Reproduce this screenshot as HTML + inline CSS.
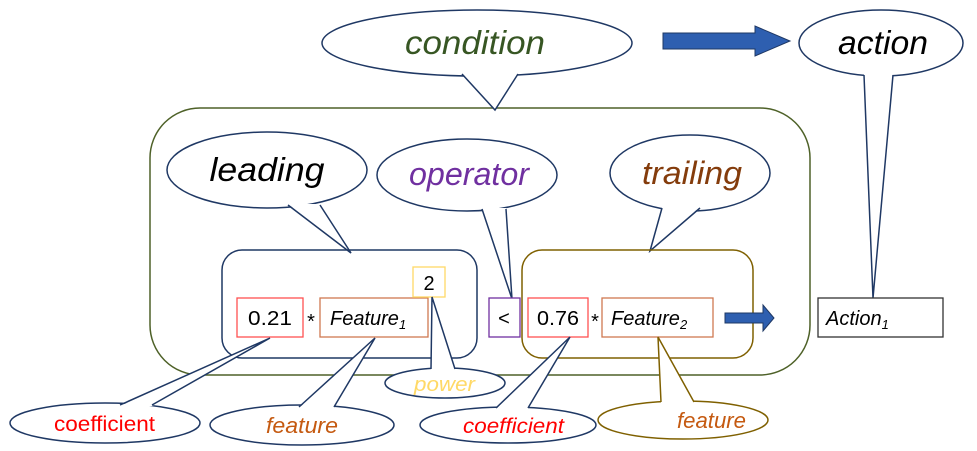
<!DOCTYPE html>
<html><head><meta charset="utf-8"><style>
html,body{margin:0;padding:0;background:#fff;}
svg{display:block;}
text{font-family:"Liberation Sans",sans-serif;}
</style></head><body>
<svg width="977" height="451" viewBox="0 0 977 451" xmlns="http://www.w3.org/2000/svg">
<rect x="150" y="108" width="660" height="267" rx="50" fill="none" stroke="#4e6128" stroke-width="1.5"/>
<ellipse cx="477" cy="43" rx="155" ry="33" fill="#fff" stroke="#1f3864" stroke-width="1.5"/>
<polygon points="462,73 495,110 518,73" fill="#fff"/>
<polyline points="462,74 495,110 518,74" fill="none" stroke="#1f3864" stroke-width="1.5"/>
<text x="475" y="54" font-size="33" font-style="italic" fill="#375623" text-anchor="middle" textLength="140" lengthAdjust="spacingAndGlyphs">condition</text>
<polygon points="663,33 755,33 755,26 790,41 755,56 755,49 663,49" fill="#2e5fb0" stroke="#1f3864" stroke-width="1"/>
<ellipse cx="881" cy="43" rx="82" ry="33" fill="#fff" stroke="#1f3864" stroke-width="1.5"/>
<polygon points="864,74 873,298 893,74" fill="#fff"/>
<polyline points="864,75 873,298 893,75" fill="none" stroke="#1f3864" stroke-width="1.5"/>
<text x="883" y="54" font-size="33" font-style="italic" fill="#000" text-anchor="middle" textLength="90" lengthAdjust="spacingAndGlyphs">action</text>
<ellipse cx="267" cy="170" rx="100" ry="38" fill="#fff" stroke="#1f3864" stroke-width="1.5"/>
<polygon points="288,204 351,253 320,204" fill="#fff"/>
<polyline points="288,205 351,253 320,205" fill="none" stroke="#1f3864" stroke-width="1.5"/>
<text x="267" y="181" font-size="33" font-style="italic" fill="#000" text-anchor="middle" textLength="115" lengthAdjust="spacingAndGlyphs">leading</text>
<ellipse cx="467" cy="175" rx="90" ry="36" fill="#fff" stroke="#1f3864" stroke-width="1.5"/>
<polygon points="482,208 512,299 506,208" fill="#fff"/>
<polyline points="482,209 512,299 506,209" fill="none" stroke="#1f3864" stroke-width="1.5"/>
<text x="469" y="185" font-size="32" font-style="italic" fill="#7030a0" text-anchor="middle" textLength="120" lengthAdjust="spacingAndGlyphs">operator</text>
<ellipse cx="690" cy="173" rx="80" ry="38" fill="#fff" stroke="#1f3864" stroke-width="1.5"/>
<polygon points="662,207 650,251 700,207" fill="#fff"/>
<polyline points="662,208 650,251 700,208" fill="none" stroke="#1f3864" stroke-width="1.5"/>
<text x="692" y="184" font-size="32" font-style="italic" fill="#843c0c" text-anchor="middle" textLength="100" lengthAdjust="spacingAndGlyphs">trailing</text>
<rect x="222" y="250" width="255" height="108" rx="20" fill="none" stroke="#1f3864" stroke-width="1.5"/>
<rect x="237" y="298" width="66" height="39" fill="#fff" stroke="#ff5050" stroke-width="1.3"/>
<text x="248" y="325" font-size="20" textLength="44" lengthAdjust="spacingAndGlyphs">0.21</text>
<text x="311" y="328" font-size="20" text-anchor="middle">*</text>
<rect x="320" y="298" width="108" height="39" fill="#fff" stroke="#d07850" stroke-width="1.3"/>
<text x="330" y="325" font-size="20" font-style="italic">Feature<tspan font-size="13" dy="4">1</tspan></text>
<rect x="413" y="267" width="32" height="30" fill="#fff" stroke="#ffd966" stroke-width="1.3"/>
<text x="429" y="290" font-size="20" text-anchor="middle">2</text>
<rect x="489" y="298" width="31" height="39" fill="#fff" stroke="#7030a0" stroke-width="1.3"/>
<text x="504" y="325" font-size="20" text-anchor="middle">&lt;</text>
<rect x="522" y="250" width="231" height="108" rx="20" fill="none" stroke="#7f6000" stroke-width="1.5"/>
<rect x="528" y="298" width="60" height="39" fill="#fff" stroke="#ff5050" stroke-width="1.3"/>
<text x="537" y="325" font-size="20" textLength="42" lengthAdjust="spacingAndGlyphs">0.76</text>
<text x="595" y="328" font-size="20" text-anchor="middle">*</text>
<rect x="602" y="298" width="111" height="39" fill="#fff" stroke="#d07850" stroke-width="1.3"/>
<text x="611" y="325" font-size="20" font-style="italic">Feature<tspan font-size="13" dy="4">2</tspan></text>
<polygon points="725,313 763,313 763,305 774,318 763,331 763,323 725,323" fill="#2e5fb0" stroke="#1f3864" stroke-width="1"/>
<rect x="818" y="298" width="125" height="39" fill="#fff" stroke="#333" stroke-width="1.3"/>
<text x="826" y="325" font-size="20" font-style="italic">Action<tspan font-size="13" dy="4">1</tspan></text>
<ellipse cx="445" cy="383" rx="60" ry="15" fill="#fff" stroke="#1f3864" stroke-width="1.5"/>
<polygon points="431,370 432,297 455,370" fill="#fff"/>
<polyline points="431,369 432,297 455,369" fill="none" stroke="#1f3864" stroke-width="1.5"/>
<text x="414" y="391" font-size="20" font-style="italic" fill="#ffd966" textLength="61" lengthAdjust="spacingAndGlyphs">power</text>
<ellipse cx="105" cy="423" rx="95" ry="20" fill="#fff" stroke="#1f3864" stroke-width="1.5"/>
<polygon points="120,406 270,338 152,406" fill="#fff"/>
<polyline points="120,405 270,338 152,405" fill="none" stroke="#1f3864" stroke-width="1.5"/>
<text x="54" y="431" font-size="21" fill="#ff0000" textLength="101" lengthAdjust="spacingAndGlyphs">coefficient</text>
<ellipse cx="302" cy="425" rx="92" ry="20" fill="#fff" stroke="#1f3864" stroke-width="1.5"/>
<polygon points="299,408 375,338 334,408" fill="#fff"/>
<polyline points="299,407 375,338 334,407" fill="none" stroke="#1f3864" stroke-width="1.5"/>
<text x="266" y="433" font-size="22" font-style="italic" fill="#c55a11" textLength="72" lengthAdjust="spacingAndGlyphs">feature</text>
<ellipse cx="508" cy="425" rx="88" ry="18" fill="#fff" stroke="#1f3864" stroke-width="1.5"/>
<polygon points="496,409 570,337 528,409" fill="#fff"/>
<polyline points="496,408 570,337 528,408" fill="none" stroke="#1f3864" stroke-width="1.5"/>
<text x="463" y="433" font-size="21" font-style="italic" fill="#ff0000" textLength="101" lengthAdjust="spacingAndGlyphs">coefficient</text>
<ellipse cx="683" cy="420" rx="85" ry="19" fill="#fff" stroke="#7f6000" stroke-width="1.5"/>
<polygon points="661,403 658,337 694,403" fill="#fff"/>
<polyline points="661,402 658,337 694,402" fill="none" stroke="#7f6000" stroke-width="1.5"/>
<text x="677" y="428" font-size="22" font-style="italic" fill="#c55a11" textLength="69" lengthAdjust="spacingAndGlyphs">feature</text>
</svg>
</body></html>
